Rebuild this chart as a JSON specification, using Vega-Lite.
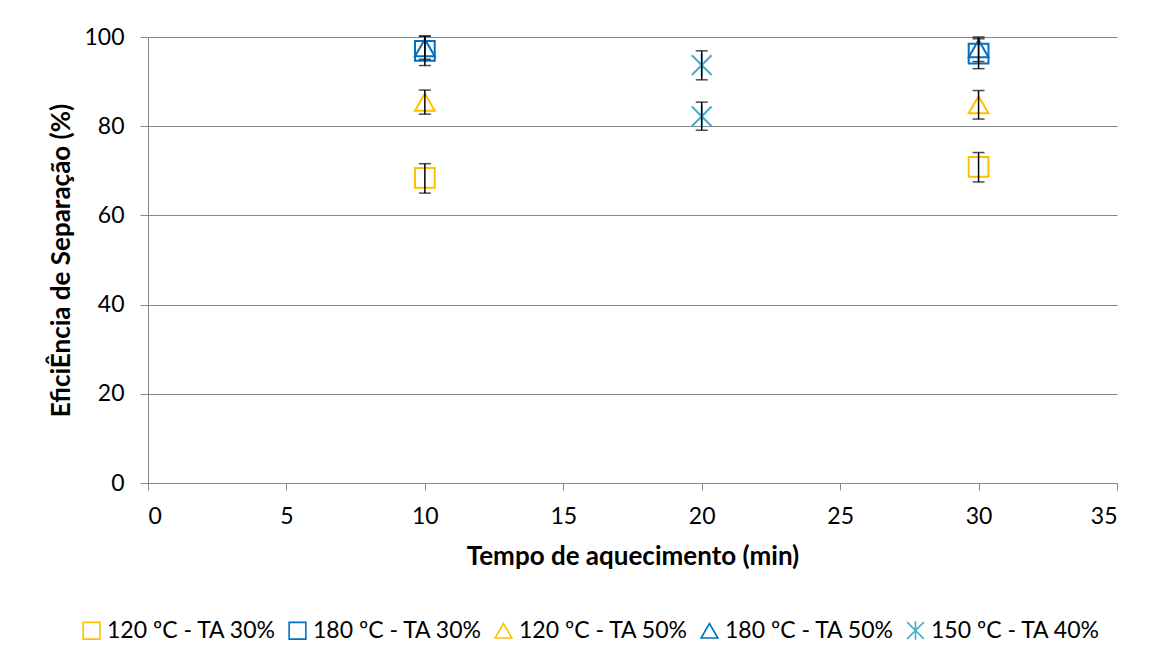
{
  "$schema": "https://vega.github.io/schema/vega-lite/v6.json",
  "autosize": {"type": "none"},
  "width": 969,
  "height": 446,
  "padding": {"left": 148, "top": 37, "right": 40, "bottom": 182},
  "background": "white",
  "config": {
    "font": "Lato",
    "view": {"stroke": null},
    "axis": {"labelFont": "Lato", "titleFont": "Lato", "labelColor": "black", "titleColor": "black"}
  },
  "data": {
    "values": [
      {"s": "120 ºC - TA 30%", "x": 10, "y": 68.4, "lo": 65.0, "hi": 71.6},
      {"s": "120 ºC - TA 30%", "x": 30, "y": 70.9, "lo": 67.5, "hi": 74.1},
      {"s": "180 ºC - TA 30%", "x": 10, "y": 96.9, "lo": 93.6, "hi": 100.2},
      {"s": "180 ºC - TA 30%", "x": 30, "y": 96.3, "lo": 92.9, "hi": 99.6},
      {"s": "120 ºC - TA 50%", "x": 10, "y": 85.4, "lo": 82.7, "hi": 88.1},
      {"s": "120 ºC - TA 50%", "x": 30, "y": 84.8, "lo": 81.6, "hi": 88.0},
      {"s": "180 ºC - TA 50%", "x": 10, "y": 97.6, "lo": 95.0, "hi": 100.2},
      {"s": "180 ºC - TA 50%", "x": 30, "y": 97.4, "lo": 94.5, "hi": 100.0},
      {"s": "150 ºC - TA 40%", "x": 20, "y": 93.7, "lo": 90.4, "hi": 96.9},
      {"s": "150 ºC - TA 40%", "x": 20, "y": 82.2, "lo": 79.1, "hi": 85.4}
    ]
  },
  "encoding": {
    "x": {
      "field": "x", "type": "quantitative",
      "scale": {"domain": [0, 35], "nice": false, "zero": false},
      "axis": {
        "title": "Tempo de aquecimento (min)",
        "values": [0, 5, 10, 15, 20, 25, 30, 35],
        "grid": false,
        "domainColor": "#868686", "tickColor": "#868686",
        "tickSize": 7, "labelFontSize": 23, "labelPadding": 15,
        "titleFontSize": 26, "titleFontWeight": "bold", "titlePadding": 15
      }
    }
  },
  "layer": [
    {
      "mark": {"type": "point", "filled": false, "strokeWidth": 2, "size": 390, "opacity": 1},
      "encoding": {
        "y": {
          "field": "y", "type": "quantitative",
          "scale": {"domain": [0, 100], "nice": false},
          "title": "EficiÊncia de Separação (%)",
          "axis": {
            "values": [0, 20, 40, 60, 80, 100],
            "grid": true, "gridColor": "#868686",
            "domainColor": "#868686", "tickColor": "#868686",
            "tickSize": 8, "labelFontSize": 23, "labelPadding": 16,
            "titleFontSize": 26, "titleFontWeight": "bold", "titlePadding": 9
          }
        },
        "shape": {
          "field": "s", "type": "nominal",
          "scale": {
            "domain": ["120 ºC - TA 30%", "180 ºC - TA 30%", "120 ºC - TA 50%", "180 ºC - TA 50%", "150 ºC - TA 40%"],
            "range": ["square", "square", "triangle-up", "triangle-up", "M-1,-1L1,1M-1,1L1,-1M0,-1.1L0,1.1"]
          },
          "legend": {
            "title": null, "orient": "none", "direction": "horizontal",
            "legendX": -68, "legendY": 582,
            "labelFontSize": 23, "labelFont": "Lato", "labelColor": "black", "labelLimit": 0,
            "symbolSize": 280, "symbolStrokeWidth": 1.6, "columnPadding": 8,
            "labelOffset": 4
          }
        },
        "color": {
          "field": "s", "type": "nominal",
          "scale": {
            "domain": ["120 ºC - TA 30%", "180 ºC - TA 30%", "120 ºC - TA 50%", "180 ºC - TA 50%", "150 ºC - TA 40%"],
            "range": ["#FFC000", "#0070C0", "#FFC000", "#0070C0", "#4BACC6"]
          }
        }
      }
    },
    {
      "mark": {"type": "rule", "color": "black", "strokeWidth": 1.5},
      "encoding": {
        "y": {"field": "lo", "type": "quantitative", "title": "EficiÊncia de Separação (%)"},
        "y2": {"field": "hi"}
      }
    },
    {
      "mark": {"type": "tick", "orient": "horizontal", "color": "black", "thickness": 1.5, "size": 12},
      "encoding": {
        "y": {"field": "lo", "type": "quantitative", "title": "EficiÊncia de Separação (%)"}
      }
    },
    {
      "mark": {"type": "tick", "orient": "horizontal", "color": "black", "thickness": 1.5, "size": 12},
      "encoding": {
        "y": {"field": "hi", "type": "quantitative", "title": "EficiÊncia de Separação (%)"}
      }
    }
  ]
}
